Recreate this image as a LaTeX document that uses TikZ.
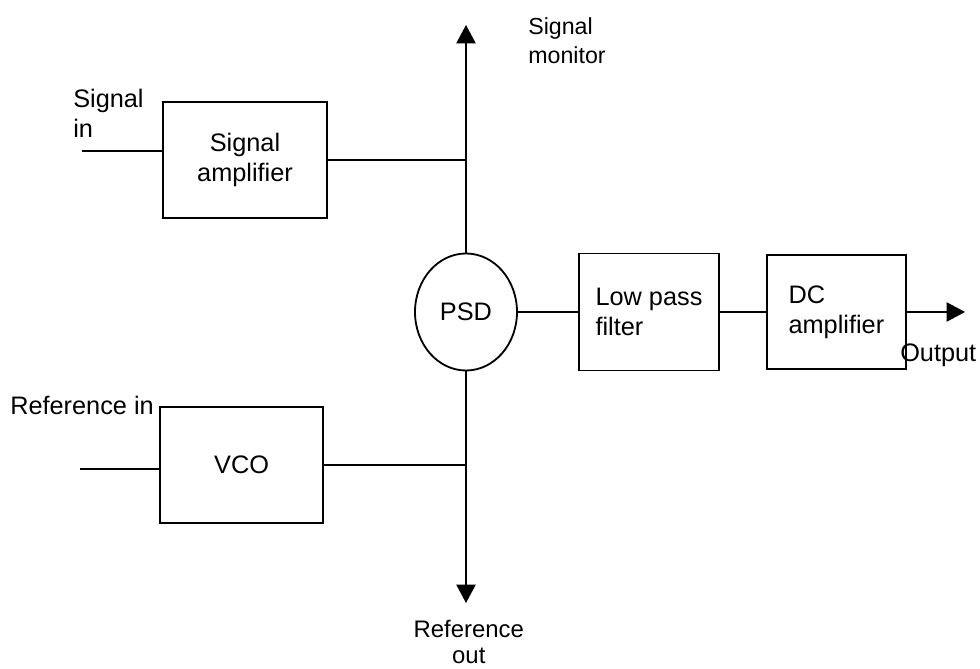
\documentclass[tikz,border=0pt]{standalone}
\usepackage{fontspec}
\setmainfont{Liberation Sans}
\usepackage{tikz}
\usetikzlibrary{arrows.meta,positioning,calc,shapes.geometric}
\tikzset{
  >={Triangle[length=4.6mm,width=4.8mm]},
  box/.style  ={draw=black,line width=1.4pt,inner sep=0pt,align=center},
  disc/.style ={draw=black,ellipse,line width=1.3pt,inner sep=0pt,
                minimum width=25.5mm,minimum height=29.25mm},
  lbl/.style  ={inner sep=0pt,align=left},
  lblsm/.style={inner sep=0pt,align=left,font=\fontsize{16.5}{21}\selectfont},
  wire/.style ={draw=black,line width=1.3pt},
  flow/.style ={->,draw=black,line width=1.3pt},
}

\begin{document}
\begin{tikzpicture}[x=1cm,y=1cm,font=\fontsize{18}{21.5}\selectfont]
\useasboundingbox (0,0) rectangle (24.5,-16.725);
% blocks
\node[box,minimum width=41mm,minimum height=29mm] (amp) at (6.125,-4.0) {Signal\\amplifier};
\node[box,minimum width=40.75mm,minimum height=29mm] (vco) at (6.04,-11.625) {VCO};
\node[disc] (psd) at (11.65,-7.8) {PSD};
\node[box,align=left,minimum width=35mm,minimum height=29.25mm] (lpf) at (16.225,-7.8) {Low pass\\filter};
\node[box,align=left,minimum width=34.75mm,minimum height=28.5mm] (dcamp) at (20.91,-7.8) {DC\\amplifier};
% free ends
\coordinate (sigin) at (2.05,-3.775);
\coordinate (refin) at (2.0,-11.725);
\coordinate (mon) at (11.65,-0.625);
\coordinate (refout) at (11.65,-15.075);
\coordinate (outend) at (24.125,-7.8);
% labels
\node[lbl,anchor=north west] (siginlbl) at (1.825,-2.225) {Signal\\in};
\node[lbl,anchor=base west] (refinlbl) at (0.25,-10.375) {Reference in};
\node[lblsm,anchor=north west] (monlbl) at (13.2,-0.425) {Signal\\monitor};
\node[lblsm,align=center,anchor=north,font=\fontsize{17}{18.5}\selectfont] (refoutlbl) at (11.72,-15.5) {Reference\\out};
\node[lbl,anchor=north west] (outlbl) at (22.5,-8.6) {Output};
% connectors
\draw[wire] (sigin) -- (sigin -| amp.west);
\draw[wire] (amp.east) -- (amp.east -| psd.north);
\draw[flow] (psd.north) -- (mon);
\draw[wire] (refin) -- (refin -| vco.west);
\draw[wire] (vco.east) -- (vco.east -| psd.south);
\draw[flow] (psd.south) -- (refout);
\draw[wire] (psd.east) -- (lpf.west);
\draw[wire] (lpf.east) -- (dcamp.west);
\draw[flow] (dcamp.east) -- (outend);
\end{tikzpicture}
\end{document}
